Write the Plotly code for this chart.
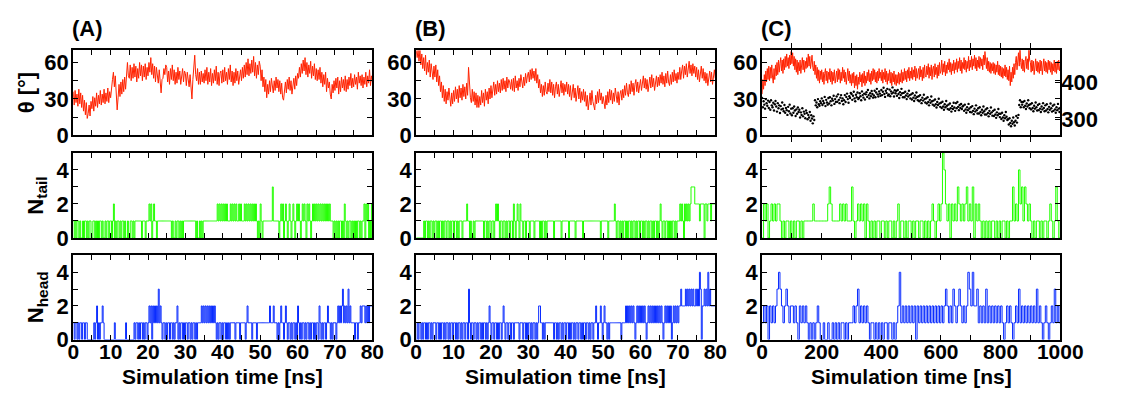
import numpy as np
import plotly.graph_objects as go

# ---------------- data ----------------
# theta (deg), panel A, one value every 0.25 ns
theta_A = [36, 25, 37, 27, 34, 24, 38, 26, 35, 23, 33, 20, 29, 17, 27, 14, 18, 25, 16, 28,
           22, 32, 20, 31, 24, 35, 23, 33, 26, 37, 25, 34, 27, 38, 26, 35, 28, 39, 27, 36,
           31, 42, 46, 52, 40, 49, 28, 21, 31, 42, 32, 44, 34, 46, 36, 48, 38, 50, 60, 49,
           47, 58, 45, 56, 47, 59, 48, 57, 44, 55, 47, 60, 49, 58, 45, 57, 48, 59, 46, 56,
           49, 60, 52, 64, 50, 59, 47, 57, 44, 56, 48, 43, 54, 45, 35, 46, 47, 55, 50, 58,
           56, 44, 53, 42, 55, 46, 58, 45, 54, 42, 52, 43, 56, 46, 53, 42, 50, 55, 44, 53,
           51, 41, 52, 44, 40, 50, 36, 30, 46, 58, 66, 50, 45, 55, 42, 52, 42, 53, 44, 51,
           43, 54, 45, 56, 42, 52, 44, 55, 41, 51, 43, 54, 45, 57, 42, 52, 41, 51, 53, 43,
           54, 44, 56, 45, 52, 42, 55, 46, 58, 44, 53, 41, 52, 43, 55, 45, 53, 42, 51, 54,
           45, 56, 47, 58, 48, 60, 50, 63, 49, 59, 51, 62, 52, 65, 49, 60, 47, 58, 50, 61,
           57, 45, 54, 40, 48, 36, 46, 31, 42, 34, 45, 36, 47, 38, 35, 45, 37, 48, 39, 46,
           36, 45, 34, 43, 31, 29, 41, 44, 35, 46, 38, 48, 37, 45, 34, 44, 47, 38, 49, 41,
           51, 47, 56, 48, 59, 51, 62, 53, 64, 50, 60, 48, 58, 51, 61, 47, 57, 49, 59, 46,
           55, 45, 54, 46, 56, 43, 52, 40, 50, 42, 52, 36, 47, 39, 44, 34, 30, 42, 35, 45,
           37, 47, 39, 48, 34, 45, 36, 48, 39, 46, 37, 49, 36, 46, 38, 48, 41, 51, 39, 47,
           40, 50, 42, 48, 38, 52, 43, 49, 41, 50, 39, 48, 42, 52, 40, 49, 43, 54, 41, 49, 44]

# theta (deg), panel B, one value every 0.25 ns
theta_B = [70, 64, 70, 61, 70, 58, 67, 55, 64, 53, 66, 50, 60, 52, 62, 48, 59, 51, 46, 57,
           48, 58, 44, 54, 41, 49, 36, 44, 31, 41, 28, 38, 26, 36, 29, 39, 27, 24, 35, 26,
           37, 28, 40, 30, 38, 27, 41, 31, 39, 29, 42, 32, 40, 30, 43, 33, 56, 42, 31, 27,
           38, 28, 36, 25, 35, 23, 33, 23, 32, 25, 37, 27, 35, 24, 38, 29, 36, 26, 39, 30,
           41, 31, 39, 44, 33, 42, 34, 45, 36, 43, 35, 46, 37, 47, 38, 45, 36, 48, 39, 46,
           44, 38, 46, 37, 47, 36, 49, 39, 45, 37, 47, 40, 50, 42, 39, 48, 41, 51, 43, 49,
           52, 44, 54, 46, 55, 47, 53, 45, 55, 43, 50, 39, 46, 35, 42, 32, 41, 33, 44, 36,
           34, 43, 36, 46, 35, 44, 33, 42, 31, 40, 44, 34, 42, 32, 41, 45, 35, 43, 33, 42,
           36, 44, 34, 42, 32, 41, 29, 38, 42, 31, 39, 28, 37, 41, 30, 39, 27, 36, 29, 38,
           28, 36, 24, 33, 21, 31, 35, 25, 37, 28, 23, 21, 33, 26, 36, 27, 38, 29, 35, 26,
           32, 24, 22, 33, 25, 36, 27, 38, 29, 37, 26, 35, 28, 39, 30, 27, 36, 25, 34, 37,
           29, 38, 31, 41, 33, 43, 35, 32, 42, 34, 45, 36, 43, 33, 42, 46, 36, 44, 35, 43,
           46, 37, 45, 49, 39, 47, 38, 46, 36, 45, 48, 39, 50, 40, 47, 37, 46, 49, 40, 48,
           41, 50, 43, 52, 42, 49, 40, 51, 43, 53, 44, 41, 50, 42, 52, 44, 54, 45, 51, 43,
           52, 46, 56, 46, 53, 58, 47, 57, 50, 59, 48, 57, 61, 51, 58, 49, 59, 51, 57, 48,
           56, 46, 54, 44, 53, 57, 47, 55, 45, 52, 43, 51, 41, 50, 53, 44, 52, 42, 50, 54, 47]

# theta (deg), panel C, one value every 2.5 ns
theta_C = [34, 46, 38, 50, 41, 53, 44, 55, 46, 57,
           45, 56, 47, 58, 48, 43, 55, 46, 58, 49,
           60, 50, 62, 52, 59, 64, 53, 62, 51, 63,
           54, 65, 56, 67, 57, 64, 55, 66, 58, 69,
           59, 68, 57, 65, 54, 63, 52, 62, 50, 60,
           53, 62, 51, 60, 64, 54, 62, 52, 61, 55,
           64, 56, 67, 57, 65, 55, 63, 66, 56, 53,
           61, 50, 58, 47, 56, 45, 54, 43, 53, 46,
           54, 44, 52, 42, 51, 55, 45, 53, 43, 52,
           46, 55, 44, 53, 42, 52, 45, 54, 43, 51,
           53, 44, 55, 46, 54, 43, 52, 45, 56, 47,
           54, 44, 52, 42, 51, 55, 45, 53, 43, 50,
           41, 51, 43, 52, 39, 49, 41, 50, 38, 48,
           42, 52, 44, 50, 40, 51, 43, 53, 41, 49,
           43, 52, 45, 54, 44, 51, 42, 53, 45, 55,
           46, 54, 44, 52, 43, 53, 45, 55, 47, 52,
           45, 54, 43, 52, 46, 55, 44, 53, 42, 51,
           45, 54, 43, 52, 41, 51, 44, 53, 42, 50,
           41, 50, 43, 52, 42, 51, 44, 54, 43, 52,
           45, 55, 46, 53, 44, 54, 47, 56, 45, 53,
           47, 56, 46, 54, 48, 57, 45, 55, 47, 53,
           55, 46, 57, 48, 54, 45, 56, 47, 58, 49,
           48, 57, 50, 59, 47, 56, 49, 58, 46, 55,
           57, 48, 59, 50, 56, 47, 58, 49, 60, 51,
           53, 62, 50, 59, 52, 61, 49, 58, 51, 60,
           54, 63, 52, 60, 50, 59, 53, 62, 51, 60,
           54, 63, 52, 61, 55, 64, 53, 62, 51, 60,
           55, 64, 54, 62, 52, 61, 55, 65, 53, 62,
           56, 65, 54, 63, 57, 66, 55, 64, 53, 62,
           56, 65, 55, 64, 57, 63, 54, 66, 58, 69,
           63, 55, 64, 53, 61, 52, 60, 51, 59, 53,
           60, 51, 59, 50, 58, 52, 61, 50, 58, 49,
           57, 48, 56, 47, 55, 49, 58, 48, 56, 46,
           54, 45, 57, 41, 52, 44, 56, 47, 59, 50,
           60, 65, 54, 63, 68, 57, 71, 60, 55, 63,
           53, 62, 52, 61, 65, 55, 63, 54, 71, 62,
           60, 52, 62, 53, 61, 50, 59, 63, 53, 61,
           52, 60, 51, 62, 53, 61, 50, 59, 63, 53,
           61, 52, 60, 51, 62, 54, 61, 52, 60, 50,
           59, 53, 62, 52, 60, 51, 61, 54, 62, 53, 57]

# black dots of panel C (right-hand axis), one value every 2.5 ns
dots_C = [358, 333, 349, 340, 329, 355, 344, 337, 351, 331,
          347, 326, 352, 338, 333, 345, 324, 341, 350, 335,
          321, 344, 330, 338, 317, 336, 327, 346, 329, 322,
          339, 318, 331, 325, 312, 334, 322, 340, 316, 329,
          311, 330, 318, 335, 324, 309, 327, 315, 332, 320,
          326, 305, 319, 312, 330, 308, 321, 315, 303, 324,
          317, 300, 312, 305, 320, 296, 311, 302, 289, 308,
          298, 352, 338, 346, 333, 355, 341, 337, 349, 344,
          357, 339, 350, 344, 361, 336, 353, 346, 340, 358,
          343, 360, 349, 338, 356, 351, 364, 342, 355, 347,
          362, 348, 368, 353, 344, 359, 366, 350, 357, 341,
          352, 366, 347, 361, 370, 355, 345, 363, 358, 372,
          369, 353, 364, 375, 357, 349, 367, 360, 373, 355,
          358, 371, 363, 352, 376, 366, 359, 370, 354, 368,
          374, 361, 380, 366, 357, 371, 363, 377, 369, 359,
          365, 378, 360, 373, 383, 368, 362, 376, 370, 364,
          380, 366, 375, 386, 369, 361, 378, 372, 383, 365,
          368, 381, 363, 376, 370, 387, 373, 362, 379, 371,
          377, 364, 380, 369, 358, 374, 366, 383, 371, 360,
          372, 360, 375, 365, 355, 370, 362, 378, 366, 357,
          368, 354, 371, 359, 350, 365, 357, 373, 361, 352,
          363, 349, 366, 353, 344, 359, 351, 367, 355, 346,
          357, 343, 360, 347, 338, 353, 345, 362, 349, 340,
          351, 337, 354, 341, 332, 347, 339, 356, 343, 334,
          345, 331, 348, 335, 326, 341, 333, 350, 337, 328,
          340, 326, 343, 330, 321, 336, 328, 345, 332, 323,
          344, 330, 347, 334, 325, 339, 331, 342, 328, 335,
          337, 323, 340, 327, 318, 333, 325, 342, 329, 320,
          333, 319, 336, 323, 314, 329, 321, 338, 325, 316,
          330, 316, 333, 320, 311, 326, 318, 335, 322, 313,
          327, 313, 330, 317, 308, 323, 315, 332, 319, 310,
          323, 309, 326, 313, 304, 319, 311, 328, 315, 306,
          315, 301, 318, 305, 296, 311, 303, 320, 307, 298,
          300, 286, 303, 290, 281, 296, 288, 305, 292, 283,
          296, 309, 291, 304, 312, 339, 352, 333, 347, 340,
          347, 333, 350, 337, 328, 343, 335, 352, 339, 330,
          341, 327, 344, 331, 322, 337, 329, 346, 333, 324,
          339, 325, 342, 329, 320, 335, 327, 344, 331, 322,
          338, 324, 341, 328, 319, 334, 326, 343, 330, 321,
          337, 323, 340, 327, 318, 333, 325, 342, 329, 320, 331]

# integer counts, one digit per sample (A, B: 0.25 ns; C: 5 ns)
tail_A_str = ("10101101001011010110" "01101010110100101101" "10120101101011010010"
              "01101011111110111011" "12120121101111111111" "11111010010110101011"
              "11111111111010010101" "11111111111111212121" "21212111212121211212"
              "11121212121212121010" "21011111111113111111" "01212012101210121012"
              "12101212102121012121" "21212121212121211101" "01010110102101011010"
              "10101101011202120102" "1")
head_A_str = ("10110101101101100000" "00101201011210000000" "00001000000000001000"
              "00000101101011010110" "12120212121312101101" "01101101011201011010"
              "11011010110101111212" "12121212121210101101" "01101010111110111101"
              "11110121111011110111" "11111111112111211101" "01211012101101011010"
              "21010110101101011010" "11021010110121101011" "10121212312121312111"
              "10110112122212121222" "2")
tail_B_str = ("00000000101101011010" "11010110101101101011" "01101011101111211010"
              "01011111111101101011" "01101212101101101011" "01102101210211011011"
              "10111101111101011010" "11111110111111101111" "11101111110111111101"
              "11111111111111111011" "11111011111121011010" "10110101101011010110"
              "11010110101101011010" "12101101101010110101" "11212102121212333322"
              "22212222022122212222" "2")
head_B_str = ("01011010110101101011" "10110101101011010110" "11010110101101103101"
              "10110101101011010121" "01101101011012101101" "10110111110111011010"
              "11010110101221101011" "11111110110101101011" "01101011010110110101"
              "10110101101121011210" "12110101111111111110" "11112121212121012121"
              "21212101212121212121" "21210121212120121212" "12232222323232323223"
              "23243022323242322222" "2")
tail_C_str = ("0212012121" "2210101101" "0101101011" "1111211111" "1111232111"
              "1121212111" "3101212120" "2101010110" "1101011010" "1201101011"
              "0101101101" "0101210121" "2542120212" "1321212312" "1302121010"
              "1010110101" "0110101131" "2142313212" "1010110101" "1012101310" "1")
head_C_str = ("1212021212" "3432123212" "2121021212" "1010101210" "0100100101"
              "0101101011" "1212312121" "2101101010" "1011011010" "1241212121"
              "2120212121" "2121212121" "2123212132" "1232121243" "2422312121"
              "3121212121" "2101212101" "2131212121" "2121312101" "2101213121" "2")

tail_A = [int(c) for c in tail_A_str]
head_A = [int(c) for c in head_A_str]
tail_B = [int(c) for c in tail_B_str]
head_B = [int(c) for c in head_B_str]
tail_C = [int(c) for c in tail_C_str]
head_C = [int(c) for c in head_C_str]

T_AB = 80
T_C = 1000
panel_labels = ["(A)", "(B)", "(C)"]
xtitle = "Simulation time [ns]"

# ---------------- styling ----------------
RED = "#ff2200"
GREEN = "#22ff00"
BLUE = "#0a2cff"
FAM = "Liberation Sans, Arial, sans-serif"
FONT = dict(family=FAM, size=22, color="black", weight="bold")
TFONT = dict(family=FAM, size=21, color="black", weight="bold")

W, H = 1130, 401
xdom = [(69, 376), (421, 728), (776, 1082)]
ydom = [(52, 140), (158, 246), (264, 351)]


def px_x(a, b):
    return [a / W, b / W]


def px_y(a, b):
    return [(H - b) / H, (H - a) / H]


fig = go.Figure()

datasets = [
    (theta_A, tail_A, head_A, T_AB),
    (theta_B, tail_B, head_B, T_AB),
    (theta_C, tail_C, head_C, T_C),
]

for col, (th, tl, hd, tmax) in enumerate(datasets):
    for row, (ys, color, shape) in enumerate([(th, RED, "linear"), (tl, GREEN, "hv"), (hd, BLUE, "hv")]):
        idx = row * 3 + col + 1
        t = np.linspace(0, tmax, len(ys))
        fig.add_trace(go.Scatter(
            x=t, y=ys, mode="lines",
            line=dict(color=color, width=1, shape=shape),
            xaxis="x%d" % idx, yaxis="y%d" % idx, hoverinfo="skip"))

# black dots in panel C (right axis)
tdots = np.linspace(0, T_C, len(dots_C))
fig.add_trace(go.Scatter(x=tdots, y=dots_C, mode="markers",
                         marker=dict(color="black", size=2.4),
                         xaxis="x3", yaxis="y10", hoverinfo="skip"))

layout = dict(width=W, height=H, margin=dict(l=0, r=0, t=0, b=0),
              paper_bgcolor="white", plot_bgcolor="white", showlegend=False)

common = dict(showline=True, linewidth=2, linecolor="black", mirror="allticks",
              ticks="inside", ticklen=5, tickwidth=1, tickcolor="black",
              showgrid=False, zeroline=False, tickfont=FONT, fixedrange=True)

for row in range(3):
    for col in range(3):
        idx = row * 3 + col + 1
        tmax = T_C if col == 2 else T_AB
        if col == 2:
            xv = list(range(0, 1001, 100))
            xt = [str(v) if v % 200 == 0 else "" for v in xv]
        else:
            xv = list(range(0, 81, 5))
            xt = [str(v) if v % 10 == 0 else "" for v in xv]
        if row < 2:
            xt = ["" for _ in xv]
        if row == 0:
            yv = [0, 15, 30, 45, 60]
            ytx = ["0", "", "30", "", "60"]
            yr = [0, 70]
        else:
            yv = [0, 1, 2, 3, 4]
            ytx = ["0", "", "2", "", "4"]
            yr = [0, 5]
        xs = "" if idx == 1 else str(idx)
        layout["xaxis" + xs] = dict(common, domain=px_x(*xdom[col]), range=[0, tmax],
                                    anchor="y%d" % idx, tickvals=xv, ticktext=xt,
                                    tickfont=TFONT,
                                    showticklabels=(row == 2), ticklabelstandoff=-8)
        layout["yaxis" + xs] = dict(common, domain=px_y(*ydom[row]), range=yr,
                                    anchor="x%d" % idx, tickvals=yv, ticktext=ytx,
                                    ticklabelstandoff=-2)

layout["yaxis10"] = dict(overlaying="y3", anchor="x3", side="right", range=[256, 488],
                         tickvals=[300, 400], ticktext=["300", "400"], ticks="inside",
                         ticklen=5, tickcolor="black", showline=False, showgrid=False,
                         zeroline=False, tickfont=FONT, fixedrange=True)

annotations = []
for col, lab in enumerate(panel_labels):
    annotations.append(dict(text=lab, x=(xdom[col][0] - 3) / W, y=(H - 29) / H,
                            xref="paper", yref="paper", xanchor="left", yanchor="middle",
                            showarrow=False, font=FONT))
    annotations.append(dict(text=xtitle, x=(xdom[col][0] + xdom[col][1]) / 2 / W, y=(H - 389) / H,
                            xref="paper", yref="paper", xanchor="center", yanchor="middle",
                            showarrow=False, font=TFONT))

ytitles = [("θ [°]", 21, 96), ("N<sub>tail</sub>", 32, 202), ("N<sub>head</sub>", 32, 307)]
for txt, xx, yy in ytitles:
    annotations.append(dict(text=txt, x=xx / W, y=(H - yy) / H, xref="paper", yref="paper",
                            xanchor="center", yanchor="middle", textangle=-90,
                            showarrow=False, font=FONT))

layout["annotations"] = annotations
fig.update_layout(**layout)
fig.write_html("out.html")
